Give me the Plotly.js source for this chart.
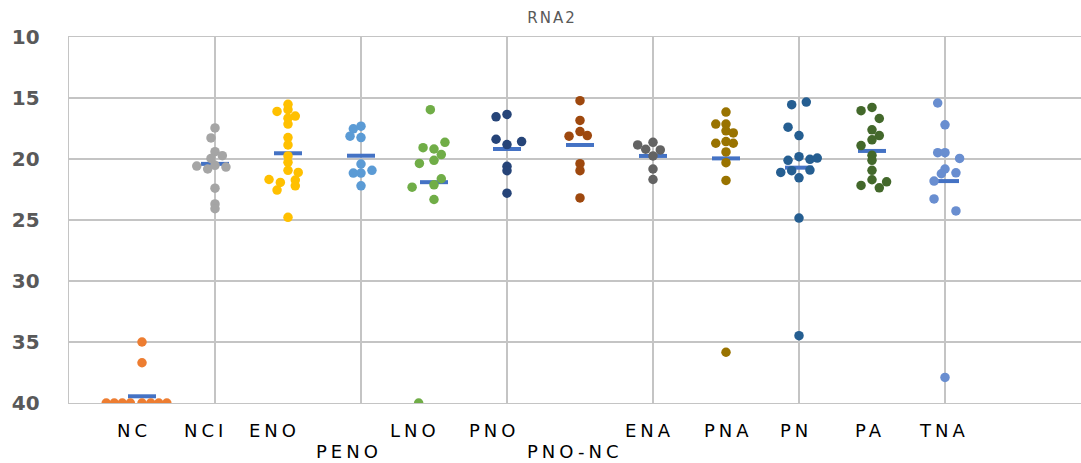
<!DOCTYPE html>
<html>
<head>
<meta charset="utf-8">
<script src="https://cdn.plot.ly/plotly-3.0.1.min.js"></script>
<style>
  html, body { margin: 0; padding: 0; background: #fff; }
  #chart { width: 1081px; height: 463px; }
  .annotation-text { letter-spacing: 4px; }
  .gtitle { letter-spacing: 2px; }
</style>
</head>
<body>
<div id="chart"></div>
<script>
// ---- data ----
const categories = ["NC", "NCI", "ENO", "PENO", "LNO", "PNO", "PNO-NC", "ENA", "PNA", "PN", "PA", "TNA"];

const ncX   = [0.51, 0.62, 0.73, 0.84, 1.0, 1.12, 1.23, 1.34, 1.0, 1.0];
const ncY   = [40, 40, 40, 40, 40, 40, 40, 40, 35.0, 36.7];

const nciX  = [2, 1.945, 2, 2.10, 1.945, 1.75, 1.90, 2.0, 2.15, 2, 2, 2];
const nciY  = [17.45, 18.27, 19.40, 19.73, 19.95, 20.58, 20.82, 20.52, 20.66, 22.39, 23.68, 24.07];

const enoX  = [3, 2.85, 3, 3.10, 3, 3, 3, 3, 3, 3, 3, 3.14, 2.74, 2.895, 3.10, 3.10, 2.85, 3];
const enoY  = [15.52, 16.10, 15.96, 16.48, 16.65, 17.14, 18.24, 18.85, 19.75, 20.27, 20.93, 21.10, 21.68, 21.92, 21.73, 22.20, 22.55, 24.78];

const penoX = [3.895, 4.0, 3.85, 4.0, 4.0, 3.895, 4.0, 4.15, 4.0];
const penoY = [17.53, 17.31, 18.13, 18.24, 20.41, 21.15, 21.15, 20.93, 22.20];

const lnoX  = [4.95, 5.15, 4.85, 5.0, 5.10, 5.0, 4.80, 5.10, 5.0, 4.70, 5.0, 4.79];
const lnoY  = [15.96, 18.63, 19.07, 19.18, 19.64, 20.11, 20.36, 21.62, 22.12, 22.31, 23.32, 40];

const pnoX  = [5.85, 6.0, 5.85, 6.0, 6.20, 6.0, 6.0, 6.0];
const pnoY  = [16.54, 16.35, 18.38, 18.82, 18.57, 20.60, 20.96, 22.80];

const pnoncX = [7, 7, 7, 6.85, 7.10, 7, 7, 7];
const pnoncY = [15.22, 16.84, 17.75, 18.13, 18.08, 20.38, 20.96, 23.19];

const enaX  = [7.79, 8, 7.90, 8.10, 8, 8, 8];
const enaY  = [18.85, 18.63, 19.20, 19.26, 19.75, 20.82, 21.68];

const pnaX  = [9, 8.86, 9, 9, 9.10, 8.86, 9, 9.10, 9, 9, 9, 9];
const pnaY  = [16.15, 17.14, 17.14, 17.69, 17.86, 18.71, 18.57, 18.71, 19.42, 20.30, 21.76, 35.84];

const pnX   = [9.90, 10.10, 9.85, 10, 10, 9.85, 10.15, 10.25, 9.75, 9.90, 10.15, 10, 10, 10];
const pnY   = [15.55, 15.33, 17.39, 18.08, 19.81, 20.11, 20.03, 19.92, 21.10, 20.96, 20.91, 21.54, 24.84, 34.48];

const paX   = [10.85, 11, 11.10, 11, 11.10, 11, 10.85, 11, 11, 11, 11, 10.85, 11.20, 11.10];
const paY   = [16.04, 15.77, 16.68, 17.61, 18.08, 18.43, 18.90, 19.70, 20.11, 20.93, 21.70, 22.17, 21.87, 22.36];

const tnaX  = [11.90, 12, 11.90, 12, 12.20, 12, 11.95, 12.15, 11.85, 11.85, 12.15, 12];
const tnaY  = [15.41, 17.20, 19.48, 19.48, 19.95, 20.82, 21.21, 21.13, 21.81, 23.27, 24.26, 37.9];

const meanX = [1, 2, 3, 4, 5, 6, 7, 8, 9, 10, 11, 12];
const meanY = [39.45, 20.4, 19.53, 19.73, 21.9, 19.18, 18.85, 19.75, 19.95, 20.71, 19.34, 21.81];

const yTicks = [10, 15, 20, 25, 30, 35, 40];

// ---- styling ----
const groups = [
  [ncX, ncY, "#ED7D31"],
  [nciX, nciY, "#A5A5A5"],
  [enoX, enoY, "#FFC000"],
  [penoX, penoY, "#5B9BD5"],
  [lnoX, lnoY, "#70AD47"],
  [pnoX, pnoY, "#264478"],
  [pnoncX, pnoncY, "#9E480E"],
  [enaX, enaY, "#636363"],
  [pnaX, pnaY, "#997300"],
  [pnX, pnY, "#255E91"],
  [paX, paY, "#43682B"],
  [tnaX, tnaY, "#698ED0"]
];

const traces = [];
traces.push({
  type: "scatter", mode: "markers", x: meanX, y: meanY, name: "mean",
  marker: { symbol: "line-ew-open", size: 20, color: "#4472C4", line: { width: 4, color: "#4472C4" } },
  hoverinfo: "y"
});
groups.forEach((g, i) => {
  traces.push({
    type: "scatter", mode: "markers", x: g[0], y: g[1], name: categories[i],
    marker: { color: g[2], size: 9.5 }
  });
});

// label placement (row and small horizontal nudge in px)
const labelShift = [-10, -12, -16, -14, -21, -15, -7, -6, 0, -5, -4, -3];
const lowRow = ["PENO", "PNO-NC"];
const annotations = categories.map((c, i) => ({
  text: c, xref: "x", yref: "paper", x: meanX[i], y: 0,
  xanchor: "center", yanchor: "middle", showarrow: false,
  xshift: labelShift[i] + 2, yshift: lowRow.includes(c) ? -48 : -27,
  font: { family: "DejaVu Sans", size: 18, color: "#000000" }
}));

const gridCol = "#C4C4C4";
const layout = {
  width: 1081, height: 463,
  margin: { l: 69, r: 0, t: 37, b: 60, pad: 0 },
  paper_bgcolor: "#ffffff", plot_bgcolor: "#ffffff",
  showlegend: false,
  title: {
    text: "RNA2", xref: "container", yref: "container",
    x: 552 / 1081, xanchor: "center", y: 1 - 18 / 463, yanchor: "middle",
    font: { family: "DejaVu Sans", size: 15, color: "#595959" }
  },
  xaxis: {
    range: [0, 1012 / 73], tick0: 0, dtick: 2, showticklabels: false,
    showgrid: true, gridcolor: gridCol, gridwidth: 1.4, zeroline: false,
    showline: true, linecolor: gridCol, linewidth: 1.4, mirror: true, ticks: ""
  },
  yaxis: {
    range: [40, 10], tickvals: yTicks, ticktext: yTicks.map(String),
    showgrid: true, gridcolor: gridCol, gridwidth: 1.4, zeroline: false,
    showline: true, linecolor: gridCol, linewidth: 1.4, ticks: "",
    ticklabelstandoff: 24,
    tickfont: { family: "DejaVu Sans", size: 20, weight: "bold", color: "#595959" }
  },
  annotations: annotations
};

Plotly.newPlot("chart", traces, layout, { displayModeBar: false, staticPlot: true });
</script>
</body>
</html>
